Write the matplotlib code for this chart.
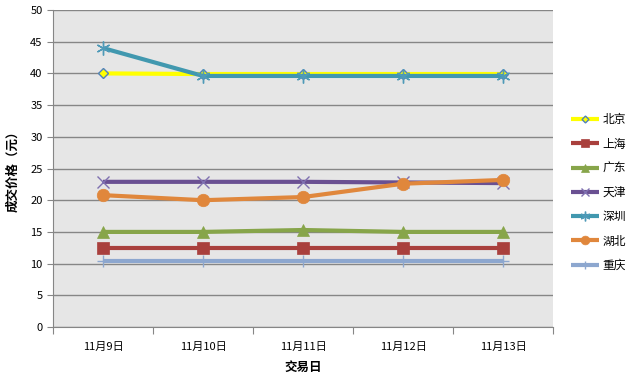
import matplotlib
matplotlib.use("Agg")
import matplotlib.pyplot as plt

plt.rcParams['font.family'] = ['Noto Sans CJK SC', 'DejaVu Sans']

days = ['11月9日', '11月10日', '11月11日', '11月12日', '11月13日']
beijing = [40.0, 39.9, 39.9, 39.9, 39.9]
shanghai = [12.4, 12.4, 12.4, 12.4, 12.4]
guangdong = [15.0, 15.0, 15.3, 15.0, 15.0]
tianjin = [22.9, 22.9, 22.9, 22.8, 22.7]
shenzhen = [44.0, 39.6, 39.6, 39.6, 39.6]
hubei = [20.8, 20.0, 20.5, 22.6, 23.2]
chongqing = [10.4, 10.4, 10.4, 10.4, 10.4]

series = [
    ('北京', beijing, '#FFFF00', 'D', 5, '#4F81BD'),
    ('上海', shanghai, '#A9403D', 's', 9, None),
    ('广东', guangdong, '#87A54A', '^', 9, None),
    ('天津', tianjin, '#6A5092', 'x', 8, '#7F70B0'),
    ('深圳', shenzhen, '#4198AF', (6, 2, 0), 10, '#4F9AB8'),
    ('湖北', hubei, '#E0873C', 'o', 9, None),
    ('重庆', chongqing, '#8DA7CF', '+', 9, '#8DA7CF'),
]

fig = plt.figure(figsize=(6.33, 3.85), dpi=100)
ax = fig.add_axes([0.0837, 0.1506, 0.79, 0.8234])
ax.set_facecolor('#E6E6E6')

x = list(range(len(days)))
for name, vals, col, mk, ms, edge in series:
    ax.plot(x, vals, color=col, lw=3, marker=mk, ms=ms,
            markerfacecolor=col,
            markeredgecolor=edge if edge else col,
            markeredgewidth=1 if edge else 0.5, label=name,
            solid_capstyle='butt', zorder=3)

ax.set_xlim(-0.5, 4.5)
ax.set_ylim(0, 50)
ax.set_yticks(range(0, 51, 5))
ax.yaxis.grid(True, color='#868686', lw=1)
ax.set_axisbelow(True)

# category boundaries carry the tick marks, labels sit in the middle
ax.set_xticks([i - 0.5 for i in range(6)])
ax.set_xticklabels([])
ax.set_xticks(x, minor=True)
ax.set_xticklabels(days, minor=True)
ax.tick_params(axis='x', which='minor', length=0, pad=11, labelsize=8)
ax.tick_params(axis='x', which='major', length=5, color='#868686')
ax.tick_params(axis='y', length=4, color='#868686', labelsize=8)

for s in ['top', 'right']:
    ax.spines[s].set_visible(False)
for s in ['left', 'bottom']:
    ax.spines[s].set_color('#868686')

ax.set_xlabel('交易日', fontsize=9, fontweight='bold', labelpad=6)
ax.set_ylabel('成交价格（元）', fontsize=9, fontweight='bold', labelpad=8)

fig.legend(loc='center left', bbox_to_anchor=(0.885, 0.50), frameon=False,
           fontsize=8.5, handlelength=2.4, labelspacing=0.95, handletextpad=0.3,
           markerscale=0.7)

fig.savefig('out.png', dpi=100)
